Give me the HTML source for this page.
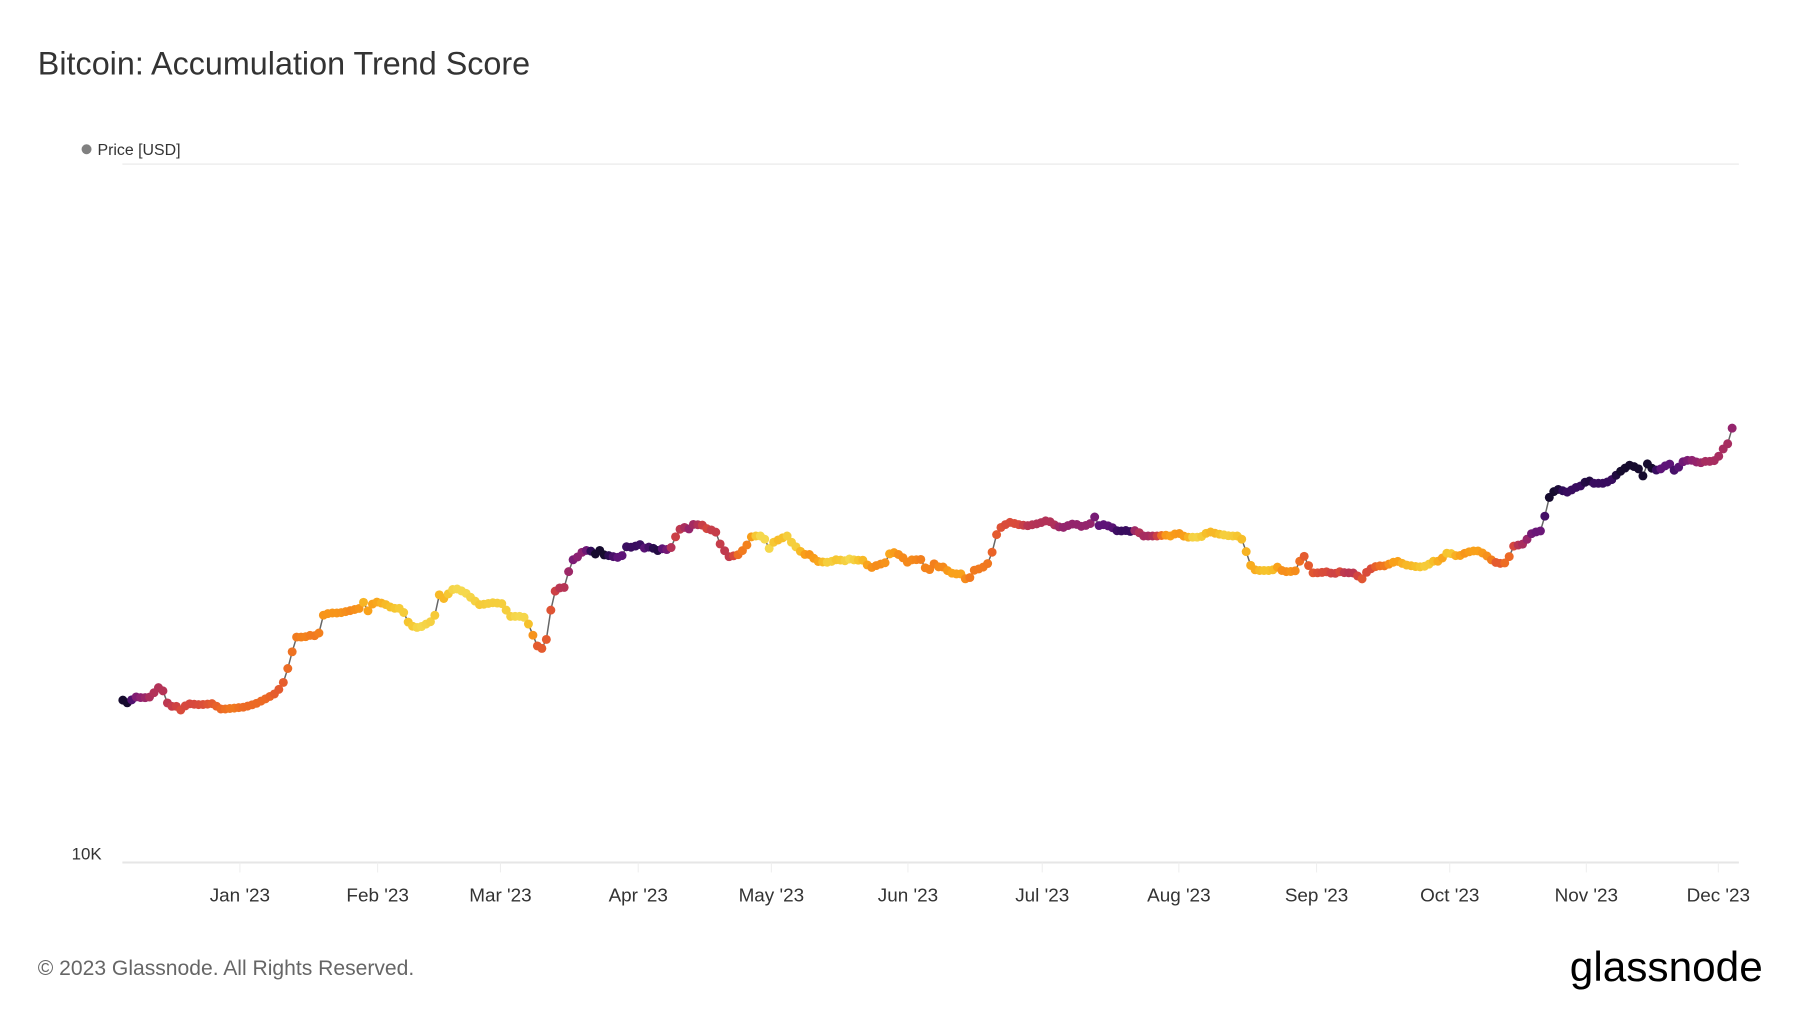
<!DOCTYPE html>
<html><head><meta charset="utf-8"><style>
html,body{margin:0;padding:0;background:#fff;}
svg{display:block;}
text{font-family:"Liberation Sans",sans-serif;}
</style></head><body>
<svg id="s" width="1800" height="1013" viewBox="0 0 1800 1013" xmlns="http://www.w3.org/2000/svg">
<rect width="1800" height="1013" fill="#fff"/>
<g transform="scale(0.9948)">
<text x="38" y="75" font-size="32.5" fill="#333">Bitcoin: Accumulation Trend Score</text>
<circle cx="87" cy="150" r="5" fill="#808080"/>
<text x="98" y="156" font-size="16" fill="#333">Price [USD]</text>
<line x1="123" y1="165" x2="1748" y2="165" stroke="#eeeeee" stroke-width="1.5"/>
<line x1="123" y1="867" x2="1748" y2="867" stroke="#e6e6e6" stroke-width="2"/>
<text x="72" y="864" font-size="17" fill="#333">10K</text>
<g id="ticks" stroke="#eeeeee" stroke-width="1"></g>
<g id="tl" font-size="19" fill="#333" text-anchor="middle"></g>
<g id="plot"></g>
<text x="38" y="980" font-size="21.2" fill="#666">© 2023 Glassnode. All Rights Reserved.</text>
<text x="1578" y="986" font-size="42" fill="#000" textLength="194" lengthAdjust="spacingAndGlyphs">glassnode</text>
</g>
</svg>
<script>
var S=1800/1560;
var months=[["Jan '23",209],["Feb '23",329],["Mar '23",436],["Apr '23",556],["May '23",672],["Jun '23",791],["Jul '23",908],["Aug '23",1027],["Sep '23",1147],["Oct '23",1263],["Nov '23",1382],["Dec '23",1497]];
var NS="http://www.w3.org/2000/svg";
function el(n,a,p){var e=document.createElementNS(NS,n);for(var k in a)e.setAttribute(k,a[k]);p.appendChild(e);return e;}
var tk=document.getElementById('ticks'),tl=document.getElementById('tl');
months.forEach(function(m){var x=m[1]*S;el('line',{x1:x,y1:867,x2:x,y2:877},tk);var t=el('text',{x:x,y:906},tl);t.textContent=m[0];});
var K=[[107,610,1],[112,613,1],[117,607,.85],[125,608,.8],[132,607,.72],[137,599,.72],[140,599,.72],[144,605,.7],[147,617,.68],[152,614,.65],[158,619,.6],[163,613,.62],[175,614,.6],[185,613,.55],[193,618,.5],[203,617,.45],[213,616,.5],[223,613,.5],[233,608,.5],[240,604,.55],[246,597,.55],[250,585,.5],[254,570,.48],[258,555,.45],[265,555,.42],[272,553,.45],[277,555,.45],[282,535,.35],[290,534,.35],[296,534,.35],[305,532,.4],[313,530,.35],[316,523,.2],[320,533,.3],[326,524,.3],[335,526,.2],[342,530,.15],[350,530,.1],[357,545,.15],[365,547,.05],[378,540,.1],[383,517,.2],[388,523,.2],[392,514,.08],[398,513,.05],[405,516,.05],[413,523,.08],[418,527,.12],[424,526,.1],[430,525,.1],[438,526,.1],[444,537,.1],[450,537,.05],[456,537,.05],[462,546,.2],[467,562,.55],[472,565,.55],[476,557,.55],[478,543,.55],[482,518,.6],[486,511,.7],[490,514,.7],[494,508,.72],[497,486,.85],[501,489,.85],[505,482,.8],[510,480,.85],[514,478,.95],[517,486,1],[521,478,1],[527,484,1],[532,484,.95],[537,486,.9],[542,484,.9],[546,476,.95],[551,477,.95],[557,474,.95],[562,478,.9],[567,476,.95],[572,480,1],[577,478,.9],[582,479,.85],[586,476,.65],[590,463,.65],[595,459,.72],[600,461,.8],[605,456,.75],[610,458,.7],[614,457,.6],[618,465,.65],[622,457,.68],[625,470,.65],[630,478,.68],[635,485,.68],[640,484,.6],[644,483,.45],[650,476,.45],[655,467,.3],[660,467,.05],[665,467,.05],[670,478,.05],[675,471,.15],[680,470,.2],[685,466,.1],[690,473,.1],[695,478,.1],[700,483,.3],[705,483,.35],[712,489,.3],[720,490,.1],[725,489,.1],[730,487,.15],[735,489,.1],[740,487,.05],[745,488,.1],[752,488,.2],[758,495,.35],[765,492,.4],[772,490,.35],[776,480,.25],[780,482,.35],[785,484,.4],[790,490,.4],[796,487,.4],[800,488,.42],[804,487,.45],[808,502,.4],[812,490,.45],[818,494,.4],[823,494,.4],[827,499,.3],[833,500,.3],[838,500,.3],[843,507,.45],[848,497,.45],[855,495,.45],[860,492,.45],[863,485,.5],[866,476,.55],[869,462,.55],[874,458,.6],[880,455,.6],[887,457,.6],[895,458,.7],[905,456,.72],[913,453,.72],[918,457,.72],[925,460,.8],[930,458,.8],[936,456,.8],[943,459,.8],[950,456,.8],[953,449,.85],[957,458,.9],[962,457,.9],[968,459,.9],[974,463,.95],[980,462,.95],[985,463,.95],[990,462,.7],[996,467,.75],[1003,467,.75],[1010,467,.6],[1014,466,.35],[1020,467,.3],[1026,464,.35],[1033,468,.3],[1040,468,.05],[1046,468,.1],[1053,463,.2],[1060,465,.2],[1066,466,.1],[1072,467,.1],[1080,467,.15],[1084,473,.2],[1088,491,.25],[1094,497,.25],[1100,497,.15],[1108,497,.15],[1113,494,.3],[1118,498,.4],[1124,498,.35],[1130,497,.4],[1134,483,.55],[1138,486,.55],[1142,499,.55],[1150,499,.6],[1155,498,.6],[1162,500,.65],[1167,498,.6],[1172,499,.7],[1178,499,.7],[1182,500,.65],[1185,507,.55],[1190,499,.6],[1195,495,.6],[1200,493,.5],[1207,493,.45],[1213,490,.3],[1218,489,.3],[1224,492,.2],[1230,493,.2],[1236,494,.15],[1243,493,.1],[1248,489,.15],[1253,489,.25],[1258,485,.3],[1262,480,.05],[1266,484,.2],[1272,484,.3],[1276,482,.35],[1282,480,.3],[1288,480,.3],[1294,483,.35],[1298,487,.4],[1303,490,.55],[1308,491,.55],[1313,490,.45],[1318,476,.6],[1322,475,.7],[1327,474,.75],[1331,469,.8],[1335,464,.88],[1340,463,.88],[1344,462,.88],[1348,436,1],[1352,430,1],[1356,426,1],[1363,428,.95],[1366,429,.95],[1372,425,.95],[1378,423,.95],[1383,418,1],[1388,421,.95],[1393,421,.95],[1398,421,.95],[1404,418,.95],[1410,412,1],[1414,409,1],[1420,405,1],[1425,407,1],[1430,410,1],[1432,417,1],[1436,401,1],[1440,410,1],[1446,409,.9],[1452,405,.9],[1456,404,.9],[1460,413,.95],[1464,403,.88],[1470,401,.85],[1476,401,.8],[1480,404,.8],[1484,402,.75],[1490,402,.75],[1495,401,.75],[1499,395,.75],[1503,388,.75],[1506,386,.75],[1509,373,.8]];
var C=[[0,[244,227,94]],[.15,[246,195,44]],[.3,[249,161,26]],[.42,[244,132,27]],[.52,[234,100,40]],[.62,[213,70,63]],[.72,[178,50,88]],[.82,[141,33,114]],[.9,[94,20,120]],[.96,[49,12,90]],[1,[22,11,46]]];
function col(v){for(var i=1;i<C.length;i++){if(v<=C[i][0]){var a=C[i-1],b=C[i],t=(v-a[0])/(b[0]-a[0]);return 'rgb('+[0,1,2].map(function(j){return Math.round(a[1][j]+(b[1][j]-a[1][j])*t)}).join(',')+')';}}return 'rgb(22,11,46)';}
var N=362,x0=107,x1=1509,pts=[];
for(var i=0;i<N;i++){var x=x0+(x1-x0)*i/(N-1);var j=0;while(j<K.length-2&&K[j+1][0]<x)j++;var a=K[j],b=K[j+1],t=(x-a[0])/(b[0]-a[0]);t=Math.max(0,Math.min(1,t));pts.push([x*S,(a[1]+(b[1]-a[1])*t)*S,a[2]+(b[2]-a[2])*t]);}
var p=document.getElementById('plot');
el('polyline',{points:pts.map(function(q){return q[0].toFixed(1)+','+q[1].toFixed(1)}).join(' '),fill:'none',stroke:'#666',"stroke-width":1.5},p);
pts.forEach(function(q){el('circle',{cx:q[0].toFixed(1),cy:q[1].toFixed(1),r:4.5,fill:col(q[2])},p);});
</script>
</body></html>
